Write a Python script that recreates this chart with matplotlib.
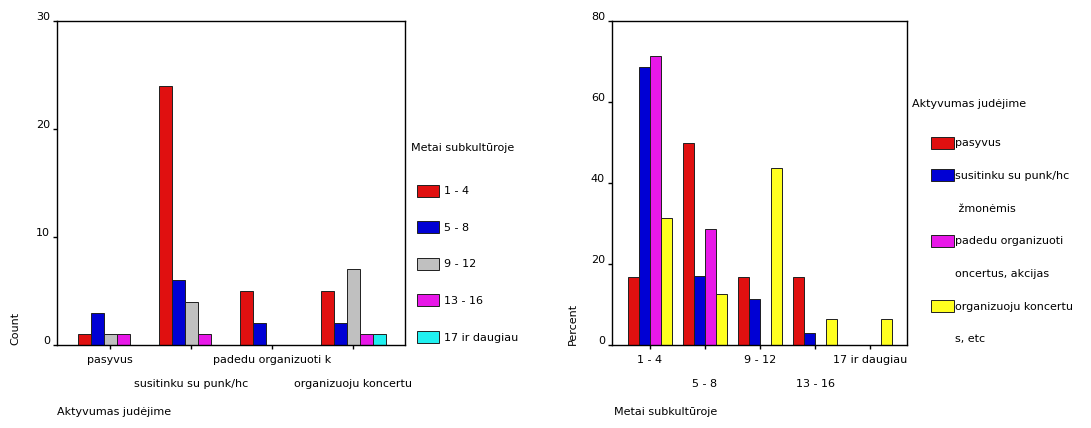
import numpy as np
import matplotlib.pyplot as plt
from matplotlib.patches import Rectangle
from matplotlib.transforms import ScaledTranslation

plt.rcParams['font.family'] = ['DejaVu Sans']
plt.rcParams['font.size'] = 8

#-----DATA--------------------------------------------------------
activity = ['pasyvus', 'susitinku su punk/hc', 'padedu organizuoti k', 'organizuoju koncertu']
years = ['1 - 4', '5 - 8', '9 - 12', '13 - 16', '17 ir daugiau']

# counts (left chart), one list per years bin, over the activity groups
count_1_4 = [1, 24, 5, 5]
count_5_8 = [3, 6, 2, 2]
count_9_12 = [1, 4, 0, 7]
count_13_16 = [1, 1, 0, 1]
count_17 = [0, 0, 0, 1]

# percent (right chart), one list per activity, over the years bins
pct_pasyvus = [16.7, 50.0, 16.7, 16.7, 0]
pct_susitinku = [68.6, 17.1, 11.4, 2.9, 0]
pct_padedu = [71.4, 28.6, 0, 0, 0]
pct_organizuoju = [31.3, 12.5, 43.8, 6.3, 6.3]

legend_activity = ['pasyvus', 'susitinku su punk/hc', ' žmonėmis',
                   'padedu organizuoti', 'oncertus, akcijas',
                   'organizuoju koncertu', 's, etc']
#-----/DATA-------------------------------------------------------

year_colors = ['#e01010', '#0000d4', '#c0c0c0', '#e818e8', '#20f0f0']
act_colors = ['#e01010', '#0000d4', '#e818e8', '#ffff20']

W, H = 1091, 428
fig = plt.figure(figsize=(W / 100, H / 100), dpi=100)


def fx(px):
    return px / W


def fy(py):
    return 1 - py / H


def style_axes(ax, yticks):
    for s in ax.spines.values():
        s.set_linewidth(1.0)
        s.set_color('black')
    ax.set_yticks(yticks)
    ax.tick_params(axis='y', direction='out', length=3, width=1, pad=2)
    ax.tick_params(axis='x', direction='out', length=3, width=1, pad=4)
    off = ScaledTranslation(0, 5 / 100, fig.dpi_scale_trans)
    for lab in ax.get_yticklabels():
        lab.set_transform(lab.get_transform() + off)


def stagger(ax):
    down = ScaledTranslation(0, -24 / 100, fig.dpi_scale_trans)
    for i, lab in enumerate(ax.get_xticklabels()):
        if i % 2 == 1:
            lab.set_transform(lab.get_transform() + down)


# ---- left: counts ----
ax1 = fig.add_axes([fx(57), fy(345), fx(405 - 57), (345 - 21) / H])
counts = [count_1_4, count_5_8, count_9_12, count_13_16, count_17]
x = np.arange(len(activity))
bw = 0.16
for i, vals in enumerate(counts):
    ax1.bar(x + (i - 2) * bw, vals, bw, color=year_colors[i],
            edgecolor='#202020', linewidth=0.7, label=years[i])
ax1.set_xlim(-0.655, 3.64)
ax1.set_ylim(0, 30)
ax1.set_xticks(x)
ax1.set_xticklabels(activity)
style_axes(ax1, [0, 10, 20, 30])
stagger(ax1)

fig.text(fx(15), fy(345), 'Count', rotation=90, ha='center', va='bottom')
fig.text(fx(57), fy(412), 'Aktyvumas judėjime', ha='left', va='center')
fig.text(fx(411), fy(148), 'Metai subkultūroje', ha='left', va='center')
h1, l1 = ax1.get_legend_handles_labels()
fig.legend(h1, l1, loc='upper left', bbox_to_anchor=(fx(411), fy(179)),
           frameon=False, borderpad=0, handlelength=2.0, handleheight=1.3,
           handletextpad=0.45, labelspacing=2.2)

# ---- right: percent ----
ax2 = fig.add_axes([fx(612), fy(345), fx(907 - 612), (345 - 21) / H])
pcts = [pct_pasyvus, pct_susitinku, pct_padedu, pct_organizuoju]
x2 = np.arange(len(years))
bw2 = 0.2
bars = []
for i, vals in enumerate(pcts):
    b = ax2.bar(x2 + (i - 1.5) * bw2, vals, bw2, color=act_colors[i],
                edgecolor='#202020', linewidth=0.7)
    bars.append(b)
ax2.set_xlim(-0.69, 4.67)
ax2.set_ylim(0, 80)
ax2.set_xticks(x2)
ax2.set_xticklabels(years)
style_axes(ax2, [0, 20, 40, 60, 80])
stagger(ax2)

fig.text(fx(573), fy(345), 'Percent', rotation=90, ha='center', va='bottom')
fig.text(fx(614), fy(412), 'Metai subkultūroje', ha='left', va='center')
fig.text(fx(912), fy(104), 'Aktyvumas judėjime', ha='left', va='center')

blank = Rectangle((0, 0), 1, 1, facecolor='none', edgecolor='none')
h2 = [bars[0], bars[1], blank, bars[2], blank, bars[3], blank]
fig.legend(h2, legend_activity, loc='upper left',
           bbox_to_anchor=(fx(925), fy(131)), frameon=False, borderpad=0,
           handlelength=2.1, handleheight=1.3, handletextpad=0.1,
           labelspacing=1.85)

fig.savefig('out.png', dpi=100)
